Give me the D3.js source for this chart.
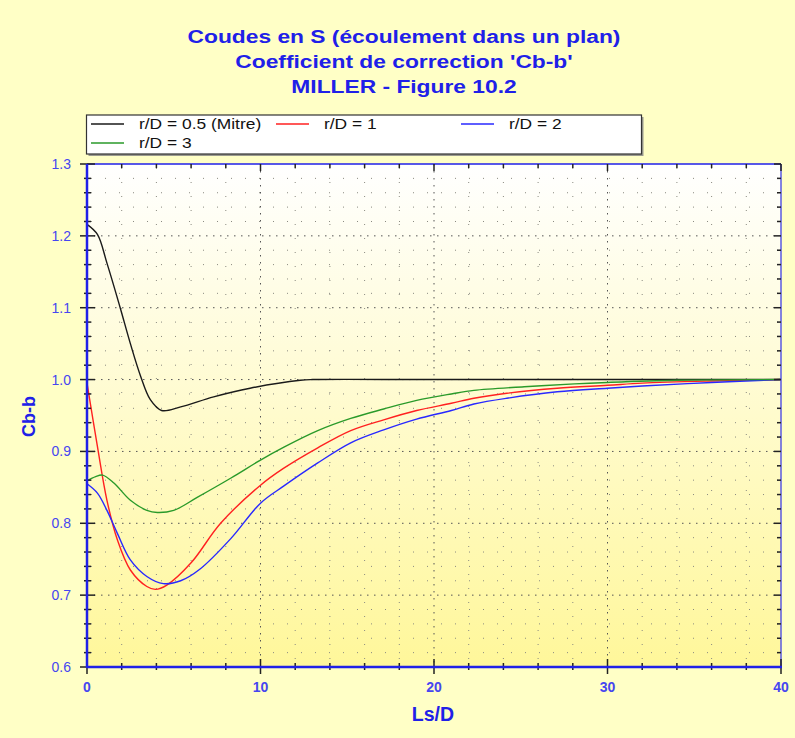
<!DOCTYPE html>
<html>
<head>
<meta charset="utf-8">
<script src="https://cdn.jsdelivr.net/npm/d3@7"></script>
<style>
  html, body { margin: 0; padding: 0; background: #FFFFC6; }
  svg { display: block; font-family: "Liberation Sans", Arial, sans-serif; }
</style>
</head>
<body>
<div id="chart"></div>
<script>
// titres
const titles = ["Coudes en S (écoulement dans un plan)", "Coefficient de correction 'Cb-b'", "MILLER - Figure 10.2"];
const xTicks = [0, 10, 20, 30, 40];
const yTicks = [0.6, 0.7, 0.8, 0.9, 1.0, 1.1, 1.2, 1.3];

// courbes
const names = ["r/D = 0.5 (Mitre)", "r/D = 1", "r/D = 2", "r/D = 3"];
const colors = ["#1a1a1a", "#ff2020", "#2828ff", "#2a9a2a"];

const xMitre = [0, 0.6, 1.15, 1.9, 2.5, 3.1, 3.65, 4.3, 5.4, 7.3, 9.4, 12.3, 13, 20, 30, 40];
const yMitre = [1.216, 1.202, 1.162, 1.101, 1.05, 1.004, 0.972, 0.957, 0.962, 0.976, 0.988, 0.999, 1.0, 1.0, 1.0, 1.0];

const xR1 = [0, 0.6, 1.15, 1.75, 2.5, 3.45, 3.95, 4.6, 6, 7.7, 10, 11.3, 13.3, 15.2, 17.1, 19, 21, 22.3, 24.2, 27.1, 30, 32, 36, 40];
const yR1 = [0.995, 0.907, 0.832, 0.777, 0.735, 0.712, 0.708, 0.714, 0.745, 0.80, 0.853, 0.876, 0.905, 0.929, 0.944, 0.957, 0.967, 0.974, 0.981, 0.988, 0.992, 0.995, 0.998, 1.0];

const xR2 = [0, 0.6, 1.15, 1.75, 2.5, 3.45, 4.4, 5.4, 6.5, 8.3, 10, 11.35, 13.3, 15.2, 17.1, 19, 21, 22.3, 24.2, 27.1, 30, 32, 36, 40];
const yR2 = [0.855, 0.842, 0.818, 0.786, 0.749, 0.726, 0.716, 0.72, 0.736, 0.779, 0.828, 0.852, 0.884, 0.912, 0.93, 0.945, 0.957, 0.966, 0.974, 0.983, 0.988, 0.991, 0.996, 1.0];

const xR3 = [0, 0.5, 0.9, 1.55, 2.5, 3.45, 4.05, 5, 6.35, 8.3, 10, 11.35, 13.3, 15.2, 17.1, 19, 21, 22.3, 25.2, 28.1, 30, 34, 40];
const yR3 = [0.859, 0.865, 0.867, 0.856, 0.832, 0.818, 0.815, 0.818, 0.836, 0.863, 0.888, 0.906, 0.929, 0.946, 0.959, 0.971, 0.98, 0.985, 0.99, 0.994, 0.996, 0.999, 1.0];

const seriesX = [xMitre, xR1, xR2, xR3];
const seriesY = [yMitre, yR1, yR2, yR3];

const width = 795, height = 738;
const plot = { left: 87, right: 781, top: 164, bottom: 667 };
const blue = "#2020e8";
const labelBlue = "#4646f0";

const svg = d3.select("#chart").append("svg").attr("width", width).attr("height", height);

// fond
svg.append("rect").attr("width", width).attr("height", height).attr("fill", "#FFFFC6");

const defs = svg.append("defs");
const grad = defs.append("linearGradient").attr("id", "plotBg").attr("x1", 0).attr("y1", 0).attr("x2", 0).attr("y2", 1);
grad.append("stop").attr("offset", "0%").attr("stop-color", "#ffffff");
grad.append("stop").attr("offset", "100%").attr("stop-color", "#fff79a");

const x = d3.scaleLinear().domain([0, 40]).range([plot.left, plot.right]);
const y = d3.scaleLinear().domain([0.6, 1.3]).range([plot.bottom, plot.top]);

svg.append("rect")
  .attr("x", plot.left).attr("y", plot.top)
  .attr("width", plot.right - plot.left).attr("height", plot.bottom - plot.top)
  .attr("fill", "url(#plotBg)");

// grille secondaire
const gGrid = svg.append("g");
const minorX = d3.range(2, 40, 2).filter(d => d % 10 !== 0);
const minorY = d3.range(0.62, 1.3, 0.02).filter(d => Math.abs(d * 10 - Math.round(d * 10)) > 0.01);
gGrid.selectAll(".mx").data(minorX).enter().append("line")
  .attr("x1", d => x(d)).attr("x2", d => x(d))
  .attr("y1", plot.top + 4).attr("y2", plot.bottom)
  .attr("stroke", "#8a8a80").attr("stroke-width", 1).attr("stroke-dasharray", "1,13");
gGrid.selectAll(".my").data(minorY).enter().append("line")
  .attr("x1", plot.left + 4).attr("x2", plot.right)
  .attr("y1", d => y(d)).attr("y2", d => y(d))
  .attr("stroke", "#8a8a80").attr("stroke-width", 1).attr("stroke-dasharray", "1,13");

// grille principale
gGrid.selectAll(".Mx").data([10, 20, 30]).enter().append("line")
  .attr("x1", d => x(d)).attr("x2", d => x(d))
  .attr("y1", plot.top).attr("y2", plot.bottom)
  .attr("stroke", "#555").attr("stroke-width", 1).attr("stroke-dasharray", "1.5,5.5");
gGrid.selectAll(".My").data([0.7, 0.8, 0.9, 1.0, 1.1, 1.2]).enter().append("line")
  .attr("x1", plot.left).attr("x2", plot.right)
  .attr("y1", d => y(d)).attr("y2", d => y(d))
  .attr("stroke", "#555").attr("stroke-width", 1).attr("stroke-dasharray", "1.5,5.5");

// courbes
const line = d3.line().x(d => x(d[0])).y(d => y(d[1])).curve(d3.curveCatmullRom.alpha(0.5));
seriesX.forEach((xs, i) => {
  const pts = xs.map((v, j) => [v, seriesY[i][j]]);
  svg.append("path").datum(pts)
    .attr("fill", "none").attr("stroke", colors[i]).attr("stroke-width", 1.4)
    .attr("d", line);
});

// cadre
svg.append("line").attr("x1", plot.left).attr("x2", plot.right).attr("y1", plot.top).attr("y2", plot.top)
  .attr("stroke", blue).attr("stroke-width", 1.5);
svg.append("line").attr("x1", plot.right).attr("x2", plot.right).attr("y1", plot.top).attr("y2", plot.bottom)
  .attr("stroke", "#5a5ae0").attr("stroke-width", 1.5);

// graduations
const tickCol = "#222";
const allX = d3.range(0, 41, 2);
const allY = d3.range(0, 36).map(i => 0.6 + i * 0.02);
const isMajX = d => d % 10 === 0;
const isMajY = d => Math.abs(d * 10 - Math.round(d * 10)) < 0.01;

svg.append("g").selectAll("line").data(allY).enter().append("line")
  .attr("x1", d => isMajY(d) ? plot.left - 7 : plot.left - 3)
  .attr("x2", d => isMajY(d) ? plot.left + 8 : plot.left + 4)
  .attr("y1", d => y(d)).attr("y2", d => y(d))
  .attr("stroke", tickCol).attr("stroke-width", 1.5);
svg.append("g").selectAll("line").data(allY).enter().append("line")
  .attr("x1", d => isMajY(d) ? plot.right - 7 : plot.right - 4)
  .attr("x2", plot.right)
  .attr("y1", d => y(d)).attr("y2", d => y(d))
  .attr("stroke", tickCol).attr("stroke-width", 1.5);
svg.append("g").selectAll("line").data(allX).enter().append("line")
  .attr("x1", d => x(d)).attr("x2", d => x(d))
  .attr("y1", d => isMajX(d) ? plot.bottom - 8 : plot.bottom - 4)
  .attr("y2", d => isMajX(d) ? plot.bottom + 7 : plot.bottom + 3)
  .attr("stroke", tickCol).attr("stroke-width", 1.5);
svg.append("g").selectAll("line").data(allX).enter().append("line")
  .attr("x1", d => x(d)).attr("x2", d => x(d))
  .attr("y1", plot.top)
  .attr("y2", d => isMajX(d) ? plot.top + 7 : plot.top + 4)
  .attr("stroke", tickCol).attr("stroke-width", 1.5);

svg.append("line").attr("x1", plot.left).attr("x2", plot.left).attr("y1", plot.top).attr("y2", plot.bottom + 1)
  .attr("stroke", blue).attr("stroke-width", 2.5);
svg.append("line").attr("x1", plot.left).attr("x2", plot.right + 1).attr("y1", plot.bottom).attr("y2", plot.bottom)
  .attr("stroke", blue).attr("stroke-width", 2.5);

// libellés des axes
svg.append("g").selectAll("text").data(yTicks).enter().append("text")
  .attr("x", 71).attr("y", d => y(d) + 5)
  .attr("text-anchor", "end").attr("fill", labelBlue).attr("font-size", 14)
  .text(d => d.toFixed(1));
svg.append("g").selectAll("text").data(xTicks).enter().append("text")
  .attr("x", d => x(d)).attr("y", 692)
  .attr("text-anchor", "middle").attr("fill", labelBlue).attr("font-size", 14).attr("font-weight", "bold")
  .text(d => d);

svg.append("text").attr("x", 433).attr("y", 721)
  .attr("text-anchor", "middle").attr("fill", blue).attr("font-size", 19.5).attr("font-weight", "bold")
  .text("Ls/D");
svg.append("text").attr("transform", "translate(35,437) rotate(-90)")
  .attr("text-anchor", "start").attr("fill", blue).attr("font-size", 18).attr("font-weight", "bold")
  .text("Cb-b");

// titre (police un peu élargie comme l'original)
svg.append("g").selectAll("text").data(titles).enter().append("text")
  .attr("transform", (d, i) => "translate(404," + (42.7 + i * 25.3) + ") scale(1.2,1)")
  .attr("text-anchor", "middle").attr("fill", blue).attr("font-size", 19).attr("font-weight", "bold")
  .text(d => d);

// légende
const leg = { x: 86.5, y: 115, w: 555, h: 39 };
svg.append("rect").attr("x", leg.x + 2).attr("y", leg.y + 2).attr("width", leg.w).attr("height", leg.h).attr("fill", "#9a9a90");
svg.append("rect").attr("x", leg.x).attr("y", leg.y).attr("width", leg.w).attr("height", leg.h)
  .attr("fill", "#fff").attr("stroke", "#333").attr("stroke-width", 1.2);
const legPos = [[91, 124], [276, 124], [461, 124], [91, 143]];
const legItems = svg.append("g").selectAll("g").data(names).enter().append("g")
  .attr("transform", (d, i) => "translate(" + legPos[i][0] + "," + legPos[i][1] + ")");
legItems.append("line").attr("x1", 0).attr("x2", 33).attr("y1", 0).attr("y2", 0)
  .attr("stroke", (d, i) => colors[i]).attr("stroke-width", 1.4);
legItems.append("text").attr("transform", "translate(48,5) scale(1.2,1)")
  .attr("font-size", 14.5).attr("fill", "#111")
  .text(d => d);
</script>
</body>
</html>
